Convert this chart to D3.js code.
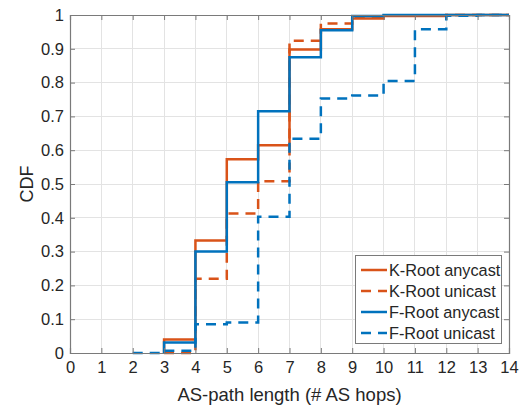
<!DOCTYPE html>
<html>
<head>
<meta charset="utf-8">
<script src="https://cdn.jsdelivr.net/npm/d3@7"></script>
<style>
  html, body { margin: 0; padding: 0; background: #fff; }
  svg { display: block; font-family: "Liberation Sans", Arial, Helvetica, sans-serif; }
</style>
</head>
<body>
<svg id="chart" width="525" height="409"></svg>
<script>
// Empirical CDFs of AS-path length: each series lists the hop counts where
// the CDF steps and the CDF value reached at that step.
const seriesNames = ["K-Root anycast", "K-Root unicast", "F-Root anycast", "F-Root unicast"];

const kAnycastHops = [3, 3, 4, 5, 6, 7, 8, 9, 10, 12, 14];
const kAnycastCdf  = [0, 0.04, 0.333, 0.573, 0.615, 0.898, 0.958, 0.99, 0.997, 1, 1];

const kUnicastHops = [3, 4, 5, 6, 7, 8, 9, 10, 12, 14];
const kUnicastCdf  = [0, 0.22, 0.413, 0.508, 0.924, 0.975, 0.995, 0.998, 1, 1];

const fAnycastHops = [3, 3, 4, 5, 6, 7, 8, 9, 10, 14];
const fAnycastCdf  = [0, 0.031, 0.3, 0.505, 0.715, 0.875, 0.955, 0.997, 1, 1];

const fUnicastHops = [2, 3, 4, 5, 6, 7, 8, 9, 10, 11, 12, 13, 14];
const fUnicastCdf  = [0, 0.007, 0.085, 0.09, 0.403, 0.634, 0.753, 0.762, 0.805, 0.958, 0.998, 1, 1];

const xTicks = [0, 1, 2, 3, 4, 5, 6, 7, 8, 9, 10, 11, 12, 13, 14];
const yTicks = [0, 0.1, 0.2, 0.3, 0.4, 0.5, 0.6, 0.7, 0.8, 0.9, 1];

const seriesColors = ["#D95319", "#D95319", "#0072BD", "#0072BD"];
const seriesDashed = [false, true, false, true];

const series = [
  { hops: kAnycastHops, cdf: kAnycastCdf },
  { hops: kUnicastHops, cdf: kUnicastCdf },
  { hops: fAnycastHops, cdf: fAnycastCdf },
  { hops: fUnicastHops, cdf: fUnicastCdf }
];

const margin = { left: 70, right: 16, top: 15, bottom: 56 };
const W = 525, H = 409;
const svg = d3.select("#chart");

const x = d3.scaleLinear().domain([0, 14]).range([margin.left, W - margin.right]);
const y = d3.scaleLinear().domain([0, 1]).range([H - margin.bottom, margin.top]);

const textColor = "#262626";
const axisColor = "#7a7a7a";
const dash = "10,7";

// grid
const grid = svg.append("g");
grid.selectAll("line.vx").data(xTicks).join("line")
  .attr("x1", d => x(d)).attr("x2", d => x(d))
  .attr("y1", y(0)).attr("y2", y(1))
  .attr("stroke", "#e3e3e3").attr("stroke-width", 1).attr("shape-rendering", "crispEdges");
grid.selectAll("line.hy").data(yTicks).join("line")
  .attr("x1", x(0)).attr("x2", x(14))
  .attr("y1", d => y(d)).attr("y2", d => y(d))
  .attr("stroke", "#e3e3e3").attr("stroke-width", 1).attr("shape-rendering", "crispEdges");

// axes (ticks point inward on all four sides)
const tickLen = 5;
const xAxisB = d3.axisBottom(x).tickValues(xTicks).tickSize(-tickLen).tickPadding(8.5).tickFormat(d3.format("d"));
const xAxisT = d3.axisTop(x).tickValues(xTicks).tickSize(-tickLen).tickFormat("");
const yAxisL = d3.axisLeft(y).tickValues(yTicks).tickSize(-tickLen).tickPadding(6).tickFormat(d => d === 0 || d === 1 ? String(d) : d3.format(".1f")(d));
const yAxisR = d3.axisRight(y).tickValues(yTicks).tickSize(-tickLen).tickFormat("");

function styleAxis(g) {
  g.select(".domain").attr("stroke", axisColor).attr("stroke-width", 1.2);
  g.selectAll(".tick line").attr("stroke", axisColor).attr("stroke-width", 1);
  g.selectAll(".tick text").attr("fill", textColor).attr("font-size", 16.5)
    .attr("font-family", "Liberation Sans, Arial, sans-serif");
}

// lines
const line = d3.line()
  .x(d => x(d[0]))
  .y(d => y(d[1]))
  .curve(d3.curveStepAfter);

const lines = svg.append("g");
series.forEach((s, i) => {
  const pts = s.hops.map((h, j) => [h, s.cdf[j]]);
  lines.append("path")
    .datum(pts)
    .attr("d", line)
    .attr("fill", "none")
    .attr("stroke", seriesColors[i])
    .attr("stroke-width", 2.5)
    .attr("stroke-dasharray", seriesDashed[i] ? dash : null)
    .attr("stroke-linejoin", "miter");
});

svg.append("g").attr("transform", `translate(0,${y(0)})`).call(xAxisB).call(styleAxis);
svg.append("g").attr("transform", `translate(0,${y(1)})`).call(xAxisT).call(styleAxis);
svg.append("g").attr("transform", `translate(${x(0)},0)`).call(yAxisL).call(styleAxis);
svg.append("g").attr("transform", `translate(${x(14)},0)`).call(yAxisR).call(styleAxis);

// axis labels
svg.append("text")
  .attr("x", (x(0) + x(14)) / 2).attr("y", 401)
  .attr("text-anchor", "middle").attr("fill", textColor).attr("font-size", 18.5)
  .text("AS-path length (# AS hops)");
svg.append("text")
  .attr("transform", `translate(33,${(y(0) + y(1)) / 2}) rotate(-90)`)
  .attr("text-anchor", "middle").attr("fill", textColor).attr("font-size", 18)
  .text("CDF");

// legend
const lg = svg.append("g");
lg.append("rect")
  .attr("x", 355.5).attr("y", 255.5).attr("width", 146).attr("height", 88)
  .attr("fill", "#fff").attr("stroke", axisColor).attr("stroke-width", 1);
const rowY = [270, 291, 312, 333];
seriesNames.forEach((name, i) => {
  lg.append("line")
    .attr("x1", 361).attr("x2", 387)
    .attr("y1", rowY[i]).attr("y2", rowY[i])
    .attr("stroke", seriesColors[i]).attr("stroke-width", 2.5)
    .attr("stroke-dasharray", seriesDashed[i] ? dash : null);
  lg.append("text")
    .attr("x", 389).attr("y", rowY[i] + 5.5)
    .attr("fill", textColor).attr("font-size", 16.3)
    .text(name);
});
</script>
</body>
</html>
